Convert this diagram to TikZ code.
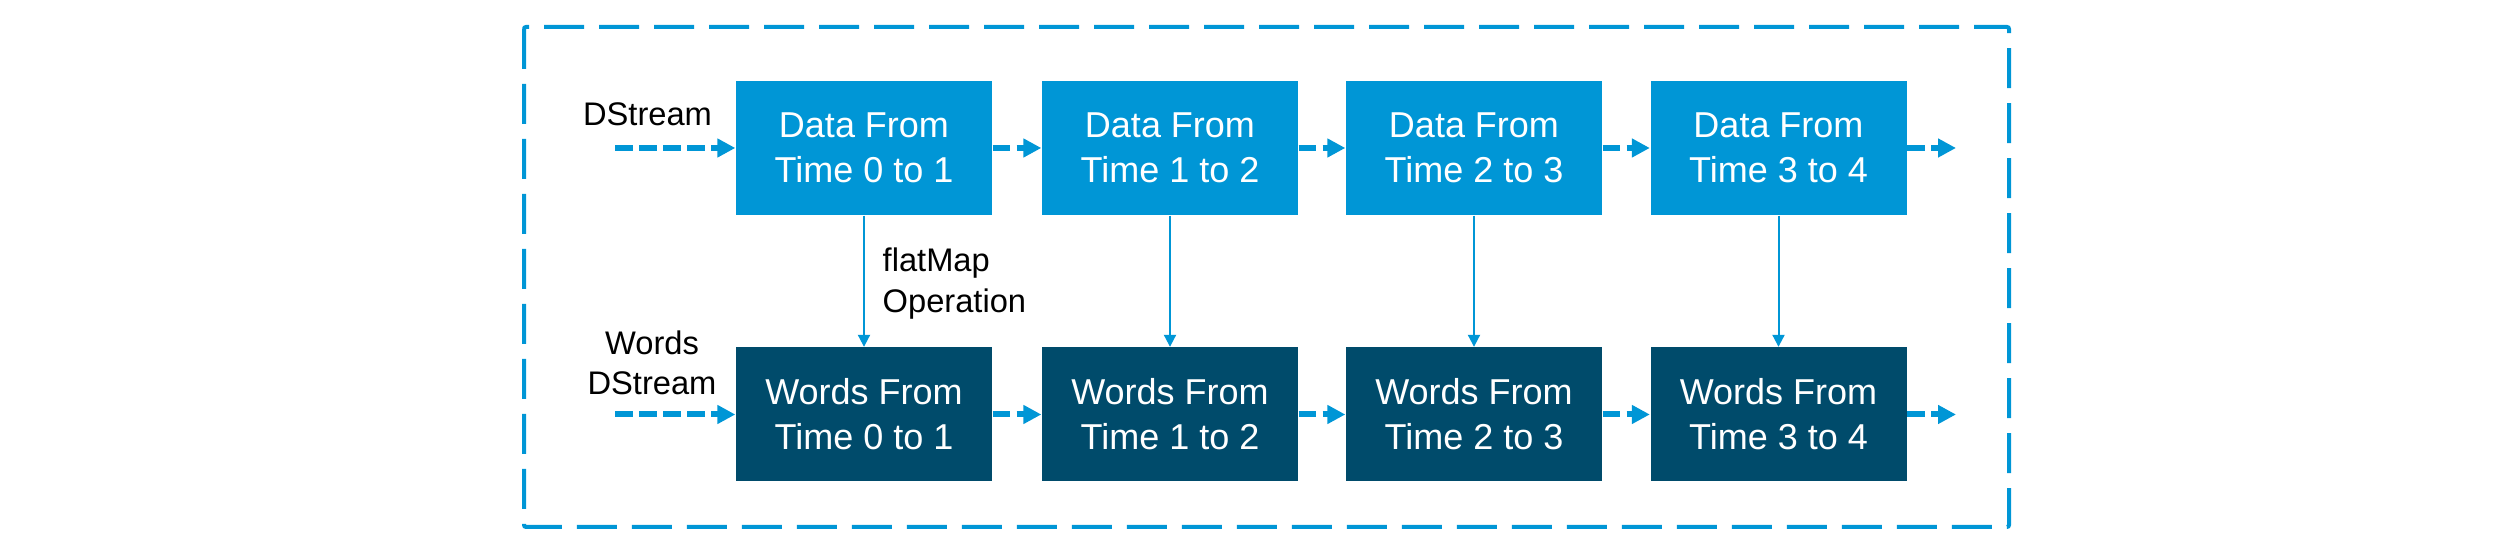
\documentclass[tikz,border=0pt]{standalone}
\usepackage{fontspec}
\setmainfont{Liberation Sans}
\usetikzlibrary{arrows.meta}
\definecolor{cblue}{RGB}{0,150,214}
\definecolor{cdark}{RGB}{0,75,107}
\begin{document}
\begin{tikzpicture}[x=0.3pt,y=0.3pt,
  databox/.style={fill=cblue,text=white,minimum width=76.8pt,minimum height=40.2pt,inner sep=0pt,align=center,font=\fontsize{10.8}{13.5}\selectfont},
  wordbox/.style={databox,fill=cdark},
  lbl/.style={inner sep=0pt,text=black,font=\fontsize{9.8}{12.2}\selectfont},
  flow/.style={draw=cblue,line width=1.8pt,dash pattern=on 5.25pt off 1.95pt,-{Triangle[length=5.4pt,width=5.4pt]}},
  mapline/.style={draw=cblue,line width=0.6pt,-{Triangle[length=3.6pt,width=3.6pt]}},
  outer/.style={draw=cblue,line width=1.2pt,dash pattern=on 12pt off 4.5pt,rounded corners=0.6pt}]
\useasboundingbox (0,0) rectangle (2500,553);
\draw[outer] (524,526) rectangle (2009,26);
\node[databox] (d1) at (864,405) {Data From\\Time 0 to 1};
\node[databox] (d2) at (1170,405) {Data From\\Time 1 to 2};
\node[databox] (d3) at (1474,405) {Data From\\Time 2 to 3};
\node[databox] (d4) at (1778.5,405) {Data From\\Time 3 to 4};
\node[wordbox] (w1) at (864,138.5) {Words From\\Time 0 to 1};
\node[wordbox] (w2) at (1170,138.5) {Words From\\Time 1 to 2};
\node[wordbox] (w3) at (1474,138.5) {Words From\\Time 2 to 3};
\node[wordbox] (w4) at (1778.5,138.5) {Words From\\Time 3 to 4};
\coordinate (din) at (615,405);
\coordinate (dout) at (1956,405);
\coordinate (win) at (615,138.5);
\coordinate (wout) at (1956,138.5);
\node[lbl,anchor=base] (lds) at (647.5,427) {DStream};
\node[lbl,align=center] (lwds) at (652,190) {Words\\DStream};
\node[lbl,align=left,anchor=west] (lfm) at (882,269.5) {flatMap\\Operation};
\draw[flow] (din) -- (d1.west);
\draw[flow] (d1.east) -- (d2.west);
\draw[flow] (d2.east) -- (d3.west);
\draw[flow] (d3.east) -- (d4.west);
\draw[flow] (d4.east) -- (dout);
\draw[flow] (win) -- (w1.west);
\draw[flow] (w1.east) -- (w2.west);
\draw[flow] (w2.east) -- (w3.west);
\draw[flow] (w3.east) -- (w4.west);
\draw[flow] (w4.east) -- (wout);
\draw[mapline] (d1.south) -- (w1.north);
\draw[mapline] (d2.south) -- (w2.north);
\draw[mapline] (d3.south) -- (w3.north);
\draw[mapline] (d4.south) -- (w4.north);
\end{tikzpicture}
\end{document}
